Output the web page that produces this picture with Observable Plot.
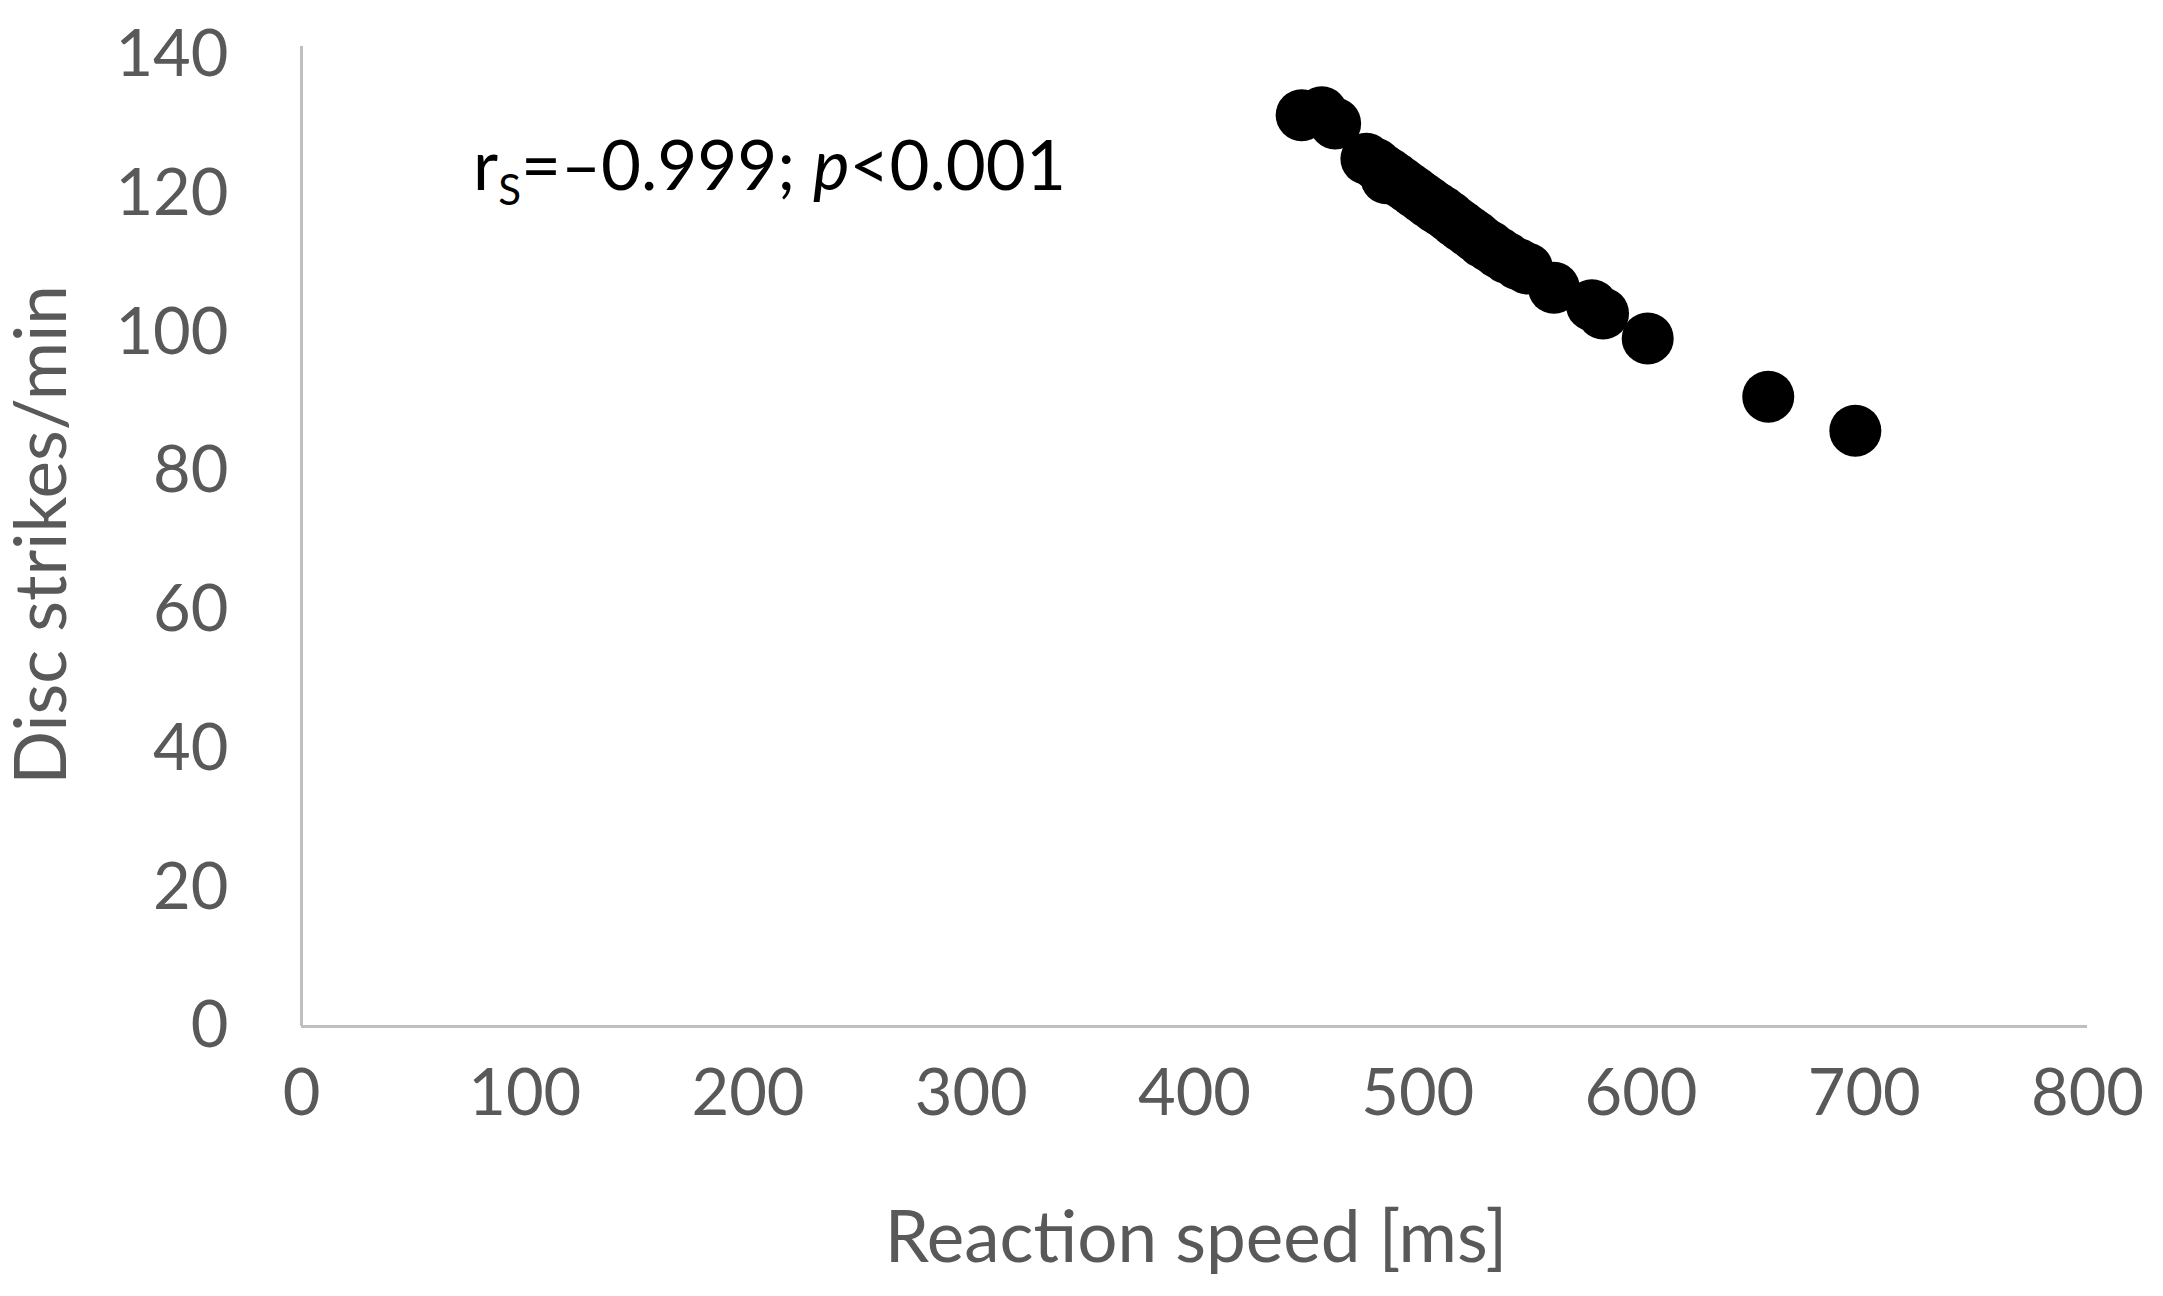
<!DOCTYPE html>
<html>
<head>
<meta charset="utf-8">
<script src="https://cdn.jsdelivr.net/npm/d3@7"></script>
<script src="https://cdn.jsdelivr.net/npm/@observablehq/plot@0.6"></script>
<style>
  html, body { margin: 0; padding: 0; background: #fff; }
  #chart svg { display: block; }
</style>
</head>
<body>
<div id="chart"></div>
<script>
// Reaction speed [ms]
const reactionMs = [448, 457, 463, 477, 481, 484, 486, 487, 490, 493, 496, 499, 502, 505, 508, 511, 514, 517, 520, 523, 526, 529, 532, 536, 540, 545, 549, 561, 578, 583, 603, 657, 696];
// Disc strikes/min
const strikesPerMin = [131.4, 131.8, 130.2, 125.1, 124.4, 123.6, 122.3, 123.0, 122.3, 121.6, 120.9, 120.2, 119.5, 118.8, 118.1, 117.5, 116.8, 116.0, 115.3, 114.6, 113.9, 113.1, 112.5, 111.6, 110.8, 109.9, 109.3, 106.5, 104.0, 102.8, 99.2, 90.8, 85.9];
const xTicks = [0, 100, 200, 300, 400, 500, 600, 700, 800];
const yTicks = [0, 20, 40, 60, 80, 100, 120, 140];
const xLabel = "Reaction speed [ms]";
const yLabel = "Disc strikes/min";

const data = reactionMs.map((x, i) => ({x, y: strikesPerMin[i]}));

const W = 2163, H = 1296;
const mL = 301, mR = 76, mT = 55, mB = 270;
const font = "Lato, 'Open Sans', sans-serif";
const gray = "#595959";

const plot = Plot.plot({
  width: W,
  height: H,
  marginLeft: mL,
  marginRight: mR,
  marginTop: mT,
  marginBottom: mB,
  style: {fontFamily: font, background: "#fff", overflow: "visible"},
  x: {domain: [0, 800]},
  y: {domain: [0, 140]},
  marks: [
    Plot.axisX(xTicks, {tickSize: 0, tickPadding: 42, fontSize: 65, fill: gray, label: null}),
    Plot.axisY(yTicks, {tickSize: 0, tickPadding: 73, fontSize: 65, fill: gray, label: null}),
    Plot.ruleX([0], {stroke: "#bfbfbf", strokeWidth: 3, y1: 0, y2: 141.3}),
    Plot.ruleY([0], {stroke: "#bfbfbf", strokeWidth: 3, x1: 0, x2: 800}),
    Plot.dot(data, {x: "x", y: "y", r: 26, fill: "#000", stroke: "none"})
  ]
});

document.getElementById("chart").appendChild(plot);

const svg = d3.select(plot);
svg.append("text")
  .attr("x", 1196).attr("y", 1244)
  .attr("text-anchor", "middle").attr("dominant-baseline", "middle")
  .attr("font-family", font).attr("font-size", 71).attr("fill", gray)
  .text(xLabel);
svg.append("text")
  .attr("transform", "translate(48,535) rotate(-90)")
  .attr("text-anchor", "middle").attr("dominant-baseline", "middle")
  .attr("font-family", font).attr("font-size", 71).attr("fill", gray)
  .text(yLabel);

const ann = svg.append("text")
  .attr("x", 473).attr("y", 190)
  .attr("text-anchor", "start")
  .attr("font-family", font).attr("font-size", 69).attr("fill", "#000");
ann.append("tspan").text("r");
ann.append("tspan").attr("font-size", 42).attr("dy", 15).text("S");
ann.append("tspan").attr("dy", -15).text("=\u20130.999; ");
ann.append("tspan").attr("font-style", "italic").text("p");
ann.append("tspan").text("<0.001");
</script>
</body>
</html>
